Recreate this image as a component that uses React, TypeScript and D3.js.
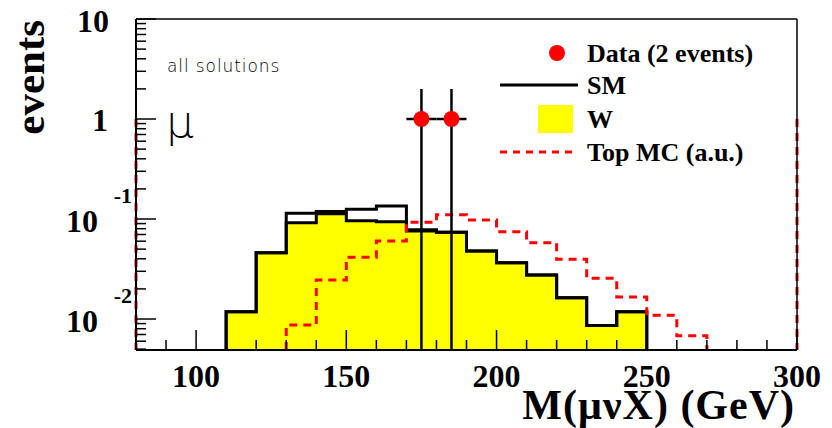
import React from "react";
import * as d3 from "d3";

// ---- data ----
const binLow = [110, 120, 130, 140, 150, 160, 170, 180, 190, 200, 210, 220, 230, 240, 250, 260];
const binWidth = 10;
const smValues = [0.0118, 0.046, 0.114, 0.119, 0.125, 0.135, 0.078, 0.0736, 0.048, 0.0366, 0.0275, 0.0163, 0.0086, 0.0118, 0, 0];
const wValues = [0.0118, 0.046, 0.092, 0.113, 0.096, 0.094, 0.076, 0.0736, 0.048, 0.0366, 0.0275, 0.0163, 0.0086, 0.0118, 0, 0];
const topValues = [0, 0, 0.0087, 0.0245, 0.0414, 0.0603, 0.0927, 0.11, 0.0977, 0.0747, 0.058, 0.0395, 0.0255, 0.0166, 0.0109, 0.0068];
const topEdgeValue = 1; // red dashed edges at axis bounds
const dataX = [175, 185];
const dataY = [1, 1];
const dataErrUp = [1, 1];
const dataErrX = [5, 5];
const xMajorTicks = [100, 150, 200, 250, 300];
const xMinorTicks = [80, 90, 110, 120, 130, 140, 160, 170, 180, 190, 210, 220, 230, 240, 260, 270, 280, 290];
const yDecades = [-2, -1, 0, 1];
const legendLabels = ["Data (2 events)", "SM", "W", "Top MC (a.u.)"];

const W = 832, H = 428;
const x = d3.scaleLinear().domain([80, 300]).range([136, 797]);
const y = d3.scaleLog().domain([0.0049, 10]).range([350, 19]).clamp(true);

function histPath(values: number[]) {
  const pts: [number, number][] = [];
  let started = false;
  let lastX = 0;
  values.forEach((v, i) => {
    if (v <= 0) return;
    const x0 = binLow[i], x1 = binLow[i] + binWidth;
    if (!started) {
      pts.push([x(x0), y(0.0049)]);
      started = true;
    }
    pts.push([x(x0), y(v)]);
    pts.push([x(x1), y(v)]);
    lastX = x1;
  });
  pts.push([x(lastX), y(0.0049)]);
  return d3.line()(pts) as string;
}

export default function App() {
  const serif = "'Liberation Serif', 'Times New Roman', serif";
  const minorY: number[] = [];
  for (let k = -3; k <= 0; k++) {
    for (let m = 2; m <= 9; m++) {
      const v = m * Math.pow(10, k);
      if (v >= 0.0049 && v <= 10) minorY.push(v);
    }
  }
  const wPath = histPath(wValues);
  const smPath = histPath(smValues);
  const topPath = histPath(topValues);
  const legX = 587;
  const legY = [53, 85, 119, 152];
  return (
    <svg width={W} height={H} style={{ position: "absolute", left: 0, top: 0, background: "#fff" }}>
      <rect x={0} y={0} width={W} height={H} fill="#fff" />
      {/* W filled histogram */}
      <path d={wPath} fill="#ffff00" stroke="#000" strokeWidth={3} />
      {/* SM */}
      <path d={smPath} fill="none" stroke="#000" strokeWidth={3} />
      {/* Top MC */}
      <path d={topPath} fill="none" stroke="#ff0000" strokeWidth={3} strokeDasharray="8,6" />
      <line x1={x(80)} x2={x(80)} y1={y(topEdgeValue)} y2={y(0.0049)} stroke="#ff0000" strokeWidth={3} strokeDasharray="8,6" />
      <line x1={x(300)} x2={x(300)} y1={y(topEdgeValue)} y2={y(0.0049)} stroke="#ff0000" strokeWidth={3} strokeDasharray="8,6" />

      {/* frame */}
      <line x1={136} x2={797} y1={19} y2={19} stroke="#000" strokeWidth={1.5} />
      <line x1={797} x2={797} y1={19} y2={350} stroke="#000" strokeWidth={1.5} />
      <line x1={136} x2={136} y1={19} y2={350} stroke="#000" strokeWidth={2} />
      <line x1={136} x2={797} y1={350} y2={350} stroke="#000" strokeWidth={2} />

      {/* y ticks */}
      {yDecades.map((k) => (
        <line key={"ym" + k} x1={136} x2={156} y1={y(Math.pow(10, k))} y2={y(Math.pow(10, k))} stroke="#000" strokeWidth={1.5} />
      ))}
      {minorY.map((v, i) => (
        <line key={"yn" + i} x1={136} x2={146} y1={y(v)} y2={y(v)} stroke="#000" strokeWidth={1.5} />
      ))}
      {/* x ticks */}
      {xMajorTicks.map((t) => (
        <line key={"xm" + t} x1={x(t)} x2={x(t)} y1={350} y2={330} stroke="#000" strokeWidth={1.5} />
      ))}
      {xMinorTicks.map((t) => (
        <line key={"xn" + t} x1={x(t)} x2={x(t)} y1={350} y2={340} stroke="#000" strokeWidth={1.5} />
      ))}

      {/* data points */}
      {dataX.map((dx, i) => (
        <g key={"d" + i}>
          <line x1={x(dx)} x2={x(dx)} y1={y(dataY[i] + dataErrUp[i])} y2={y(0.0049)} stroke="#000" strokeWidth={2.5} />
          <line x1={x(dx - dataErrX[i])} x2={x(dx + dataErrX[i])} y1={y(dataY[i])} y2={y(dataY[i])} stroke="#000" strokeWidth={2.5} />
        </g>
      ))}
      {dataX.map((dx, i) => (
        <circle key={"c" + i} cx={x(dx)} cy={y(dataY[i])} r={8} fill="#ff0000" />
      ))}

      {/* y tick labels */}
      <g fontFamily={serif} fontWeight="bold" fill="#000">
        <text x={109} y={y(10) + 13} fontSize={32} textAnchor="end">10</text>
        <text x={108} y={y(1) + 12} fontSize={32} textAnchor="end">1</text>
        {[-1, -2].map((k) => (
          <g key={"yl" + k}>
            <text x={98} y={y(Math.pow(10, k)) + 13} fontSize={32} textAnchor="end">10</text>
            <text x={132} y={y(Math.pow(10, k)) - 16} fontSize={22} textAnchor="end">{String(k)}</text>
          </g>
        ))}
      </g>
      {/* x tick labels */}
      <g fontFamily={serif} fontWeight="bold" fill="#000" fontSize={32} textAnchor="middle">
        {xMajorTicks.map((t) => (
          <text key={"xl" + t} x={x(t)} y={387}>{t}</text>
        ))}
      </g>
      {/* axis titles */}
      <text x={795} y={419} fontFamily={serif} fontWeight="bold" fontSize={42} letterSpacing={1} textAnchor="end">M(μνX) (GeV)</text>
      <text transform="translate(44,20) rotate(-90)" fontFamily={serif} fontWeight="bold" fontSize={43} textAnchor="end">events</text>

      {/* annotations */}
      <text x={167} y={72} fontFamily="'DejaVu Sans', sans-serif" fontWeight={200} fontSize={17} letterSpacing={0.9}>all solutions</text>
      <text x={166} y={137} fontFamily="'DejaVu Sans', sans-serif" fontWeight={200} fontSize={44}>μ</text>

      {/* legend */}
      <circle cx={557} cy={legY[0]} r={8} fill="#ff0000" />
      <line x1={500} x2={578} y1={legY[1]} y2={legY[1]} stroke="#000" strokeWidth={3} />
      <rect x={538} y={105} width={35} height={28} fill="#ffff00" />
      <line x1={500} x2={578} y1={legY[3]} y2={legY[3]} stroke="#ff0000" strokeWidth={3} strokeDasharray="7,6" />
      <g fontFamily={serif} fontWeight="bold" fontSize={26} fill="#000">
        {legendLabels.map((l, i) => (
          <text key={l} x={legX} y={legY[i] + 9}>{l}</text>
        ))}
      </g>
    </svg>
  );
}
